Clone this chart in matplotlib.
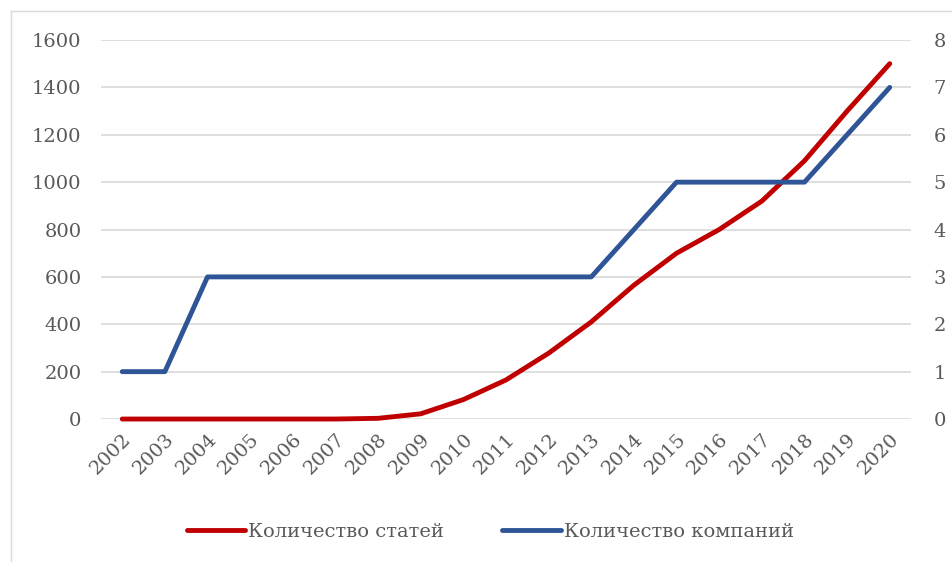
import matplotlib.pyplot as plt
from matplotlib.lines import Line2D

years = list(range(2002, 2021))
articles = [0, 0, 0, 0, 0, 0, 3, 22, 82, 165, 278, 410, 565, 700, 800, 920, 1090, 1300, 1500]
companies = [1, 1, 3, 3, 3, 3, 3, 3, 3, 3, 3, 3, 4, 5, 5, 5, 5, 6, 7]
left_ticks = [0, 200, 400, 600, 800, 1000, 1200, 1400, 1600]
right_ticks = [0, 1, 2, 3, 4, 5, 6, 7, 8]

label_articles = "Количество статей"
label_companies = "Количество компаний"

red = "#C00000"
blue = "#2F5597"
gray_text = "#595959"
grid_col = "#D9D9D9"

plt.rcParams['font.family'] = ['DejaVu Serif']

fig = plt.figure(figsize=(9.52, 5.62), dpi=100)
ax = fig.add_axes([0.106, 0.2544, 0.851, 0.6744])
ax2 = ax.twinx()

ax.plot(years, articles, color=red, lw=3.5, solid_capstyle='round',
        zorder=3, clip_on=False)
ax2.plot(years, companies, color=blue, lw=3.5, solid_capstyle='round',
         zorder=3, clip_on=False)

ax.set_xlim(2001.5, 2020.5)
ax.set_ylim(0, 1600)
ax2.set_ylim(0, 8)
ax.set_yticks(left_ticks)
ax2.set_yticks(right_ticks)
ax.set_xticks(years)
ax.set_xticklabels([str(y) for y in years], rotation=45, ha='right',
                   rotation_mode='anchor')

for a in (ax, ax2):
    for s in a.spines.values():
        s.set_visible(False)
    a.tick_params(length=0, colors=gray_text, labelsize=14)

ax.tick_params(axis='y', pad=14)
ax.tick_params(axis='x', pad=8)
ax2.tick_params(axis='y', pad=16)
ax.grid(axis='y', color=grid_col, lw=1.2)
ax.set_axisbelow(True)

handles = [Line2D([], [], color=red, lw=3.5, solid_capstyle='round'),
           Line2D([], [], color=blue, lw=3.5, solid_capstyle='round')]
fig.legend(handles, [label_articles, label_companies], loc='center',
           bbox_to_anchor=(0.515, 0.053), ncol=2, frameon=False,
           fontsize=14, handlelength=3.0, handletextpad=0.15,
           columnspacing=3.0, labelcolor=gray_text)

# chart border (left and top edges visible)
fig.add_artist(Line2D([10.5 / 952, 10.5 / 952], [0, 1 - 10.5 / 562],
                      transform=fig.transFigure, color=grid_col, lw=1))
fig.add_artist(Line2D([10.5 / 952, 1], [1 - 10.5 / 562, 1 - 10.5 / 562],
                      transform=fig.transFigure, color=grid_col, lw=1))

fig.savefig("out.png", dpi=100)
